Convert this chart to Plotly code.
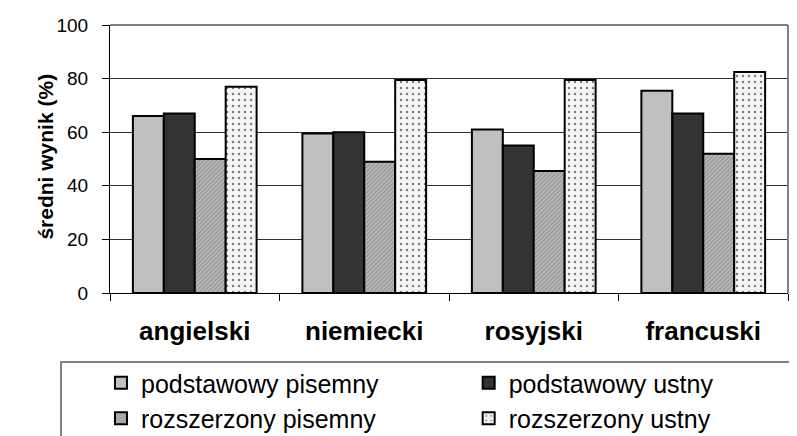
import plotly.graph_objects as go

# languages on the x axis
languages = ["angielski", "niemiecki", "rosyjski", "francuski"]

# average score (%) per exam type
podstawowy_pisemny = [66, 59.5, 61, 75.5]
podstawowy_ustny = [67, 60, 55, 67]
rozszerzony_pisemny = [50, 49, 45.5, 52]
rozszerzony_ustny = [77, 79.5, 79.5, 82.5]

y_ticks = [0, 20, 40, 60, 80, 100]
y_title = "średni wynik (%)"

FONT = "Liberation Sans, Arial, sans-serif"
OUTLINE = dict(color="#000000", width=2)

fig = go.Figure()

# left legend column: written exams, right column: oral exams
fig.add_trace(
    go.Bar(
        x=languages,
        y=podstawowy_pisemny,
        name="podstawowy pisemny",
        legend="legend",
        marker=dict(color="#c0c0c0", line=OUTLINE),
    )
)
fig.add_trace(
    go.Bar(
        x=languages,
        y=podstawowy_ustny,
        name="podstawowy ustny",
        legend="legend2",
        marker=dict(color="#333333", line=OUTLINE),
    )
)
fig.add_trace(
    go.Bar(
        x=languages,
        y=rozszerzony_pisemny,
        name="rozszerzony pisemny",
        legend="legend",
        marker=dict(
            color="#b0b0b0",
            line=OUTLINE,
            pattern=dict(shape="/", fgcolor="#6a6a6a", bgcolor="#bcbcbc", size=3, solidity=0.45),
        ),
    )
)
fig.add_trace(
    go.Bar(
        x=languages,
        y=rozszerzony_ustny,
        name="rozszerzony ustny",
        legend="legend2",
        marker=dict(
            color="#ffffff",
            line=OUTLINE,
            pattern=dict(shape=".", fgcolor="#000000", bgcolor="#f6f6f6", size=6, solidity=0.12),
        ),
    )
)

legend_style = dict(
    orientation="v",
    xanchor="left",
    y=-0.25,
    yanchor="top",
    font=dict(family=FONT, size=25, color="#000000"),
    bgcolor="rgba(0,0,0,0)",
    traceorder="normal",
)

# the page body adds an 8px offset, so the figure is 8px smaller than the window
fig.update_layout(
    width=789,
    height=428,
    barmode="group",
    bargap=0.27,
    bargroupgap=0,
    plot_bgcolor="#ffffff",
    paper_bgcolor="#ffffff",
    margin=dict(l=102, r=9, t=17, b=143, autoexpand=False),
    font=dict(family=FONT, size=19, color="#000000"),
    showlegend=True,
    legend=dict(x=-0.0133, **legend_style),
    legend2=dict(x=0.529, **legend_style),
    shapes=[
        # grey frame on top and right of the plot area
        dict(type="line", xref="paper", yref="paper", x0=0, x1=1, y0=1, y1=1,
             line=dict(color="#808080", width=2)),
        dict(type="line", xref="paper", yref="paper", x0=1, x1=1, y0=0, y1=1,
             line=dict(color="#808080", width=2)),
        # legend box running off the page edge
        dict(type="rect", xref="paper", yref="paper", x0=-0.0723, x1=1.05, y0=-0.2575, y1=-0.6,
             line=dict(color="#808080", width=2), fillcolor="rgba(0,0,0,0)"),
    ],
    annotations=[
        dict(
            text=f"<b>{y_title}</b>",
            xref="paper",
            yref="paper",
            x=-0.0944,
            y=0.509,
            xanchor="center",
            yanchor="middle",
            textangle=-90,
            showarrow=False,
            font=dict(family=FONT, size=21, color="#000000"),
        )
    ],
)

fig.update_yaxes(
    range=[0, 100],
    tickvals=y_ticks,
    ticks="outside",
    ticklen=7,
    tickcolor="#000000",
    showline=True,
    linecolor="#000000",
    linewidth=1,
    showgrid=True,
    gridcolor="#303030",
    gridwidth=1,
    zeroline=False,
    tickfont=dict(family=FONT, size=19),
    ticklabelstandoff=10,
)
fig.update_xaxes(
    tickson="boundaries",
    ticks="outside",
    ticklen=7,
    tickcolor="#000000",
    showline=True,
    linecolor="#000000",
    linewidth=1,
    showgrid=False,
    tickfont=dict(family=FONT, size=26),
    tickvals=languages,
    ticktext=[f"<b>{lang}</b>" for lang in languages],
    ticklabelstandoff=15,
)

fig.write_html("out.html")
